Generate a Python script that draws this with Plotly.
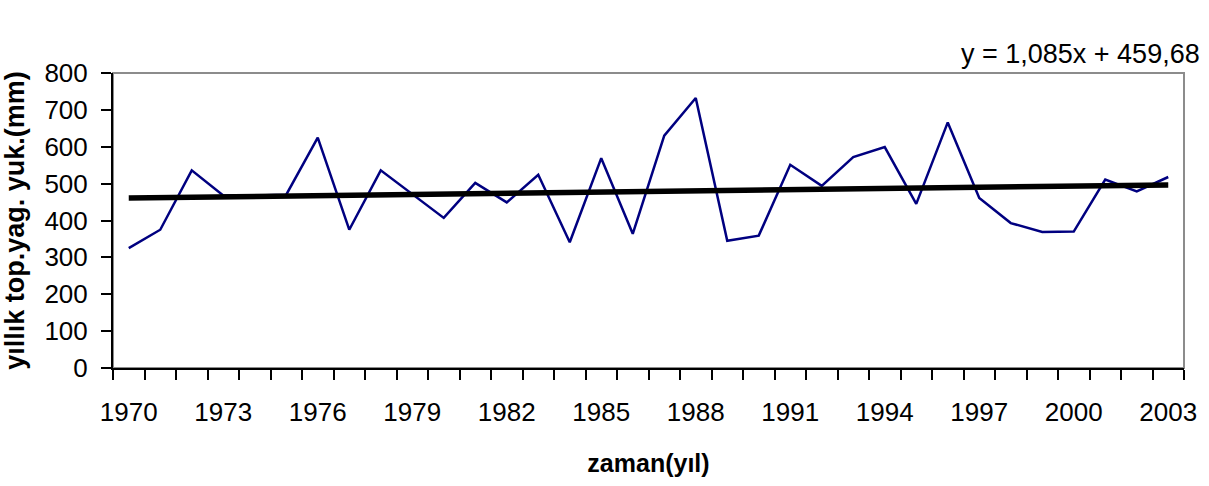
import plotly.graph_objects as go

years = list(range(1970, 2004))
rain = [325, 375, 536, 468, 468, 470, 625, 375, 536, 472, 407, 502, 449, 524, 341,
        569, 364, 630, 732, 345, 359, 551, 494, 572, 599, 445, 666, 461, 393, 369,
        370, 511, 479, 518]
slope = 1.085
intercept = 459.68
tick_years = years[::3]

idx = list(range(len(years)))
trend = [slope * (i + 1) + intercept for i in idx]

FONT = "Liberation Sans, Arial, sans-serif"

fig = go.Figure()
fig.add_trace(go.Scatter(x=idx, y=rain, mode="lines",
                         line=dict(color="#000080", width=2.5), showlegend=False))
fig.add_trace(go.Scatter(x=idx, y=trend, mode="lines",
                         line=dict(color="black", width=5.5), showlegend=False))

fig.update_layout(
    width=1209, height=486,
    margin=dict(l=112, r=22, t=73, b=118),
    paper_bgcolor="white", plot_bgcolor="white",
    font=dict(family=FONT, color="black", size=26),
    shapes=[dict(type="rect", xref="paper", yref="paper", x0=0, y0=0, x1=1, y1=1,
                 line=dict(color="#8c8c8c", width=2), layer="below")],
    annotations=[dict(text="y = 1,085x + 459,68", xref="paper", yref="paper",
                      x=1.017, y=1.066, xanchor="right", yanchor="middle",
                      showarrow=False, font=dict(size=27, family=FONT))],
)

fig.update_xaxes(
    range=[-0.5, len(years) - 0.5],
    tickvals=[years.index(y) for y in tick_years],
    ticktext=[str(y) for y in tick_years],
    ticks="outside", ticklen=10, tickcolor="rgba(0,0,0,0)",
    ticklabelstandoff=10,
    minor=dict(ticks="outside", ticklen=10, tickcolor="black", tickwidth=1.5,
               tick0=-0.5, dtick=1, showgrid=False),
    showline=True, linecolor="black", linewidth=2,
    showgrid=False, zeroline=False,
    tickfont=dict(size=26),
    title=dict(text="<b>zaman(yıl)</b>", font=dict(size=25), standoff=28),
)
fig.update_yaxes(
    range=[0, 800], tickvals=[0, 100, 200, 300, 400, 500, 600, 700, 800],
    ticks="outside", ticklen=10, tickcolor="black", tickwidth=1.5,
    ticklabelstandoff=8,
    showline=True, linecolor="black", linewidth=2,
    showgrid=False, zeroline=False,
    tickfont=dict(size=26),
    title=dict(text="<b>yıllık top.yag. yuk.(mm)</b>", font=dict(size=27), standoff=14),
)

fig.write_html("out.html")
